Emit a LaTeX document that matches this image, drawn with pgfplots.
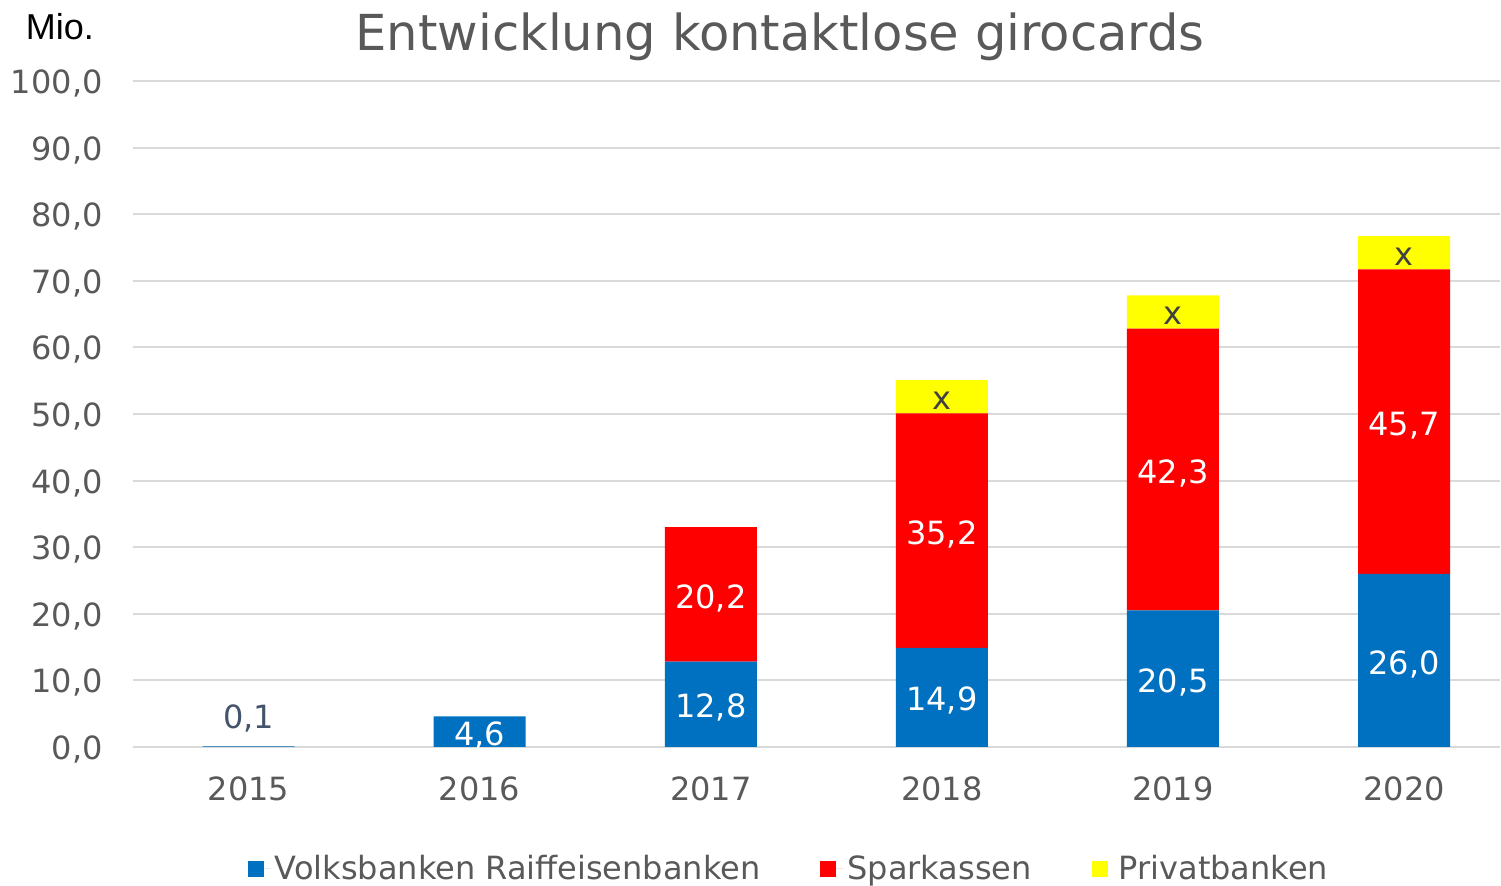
\documentclass[border=0pt]{standalone}
\usepackage{pgfplots}
\pgfplotsset{compat=1.18}
\usepackage{fontspec}
\setmainfont{DejaVu Sans}
\newfontfamily\arialfont{Liberation Sans}
\definecolor{vrblue}{HTML}{0070C0}
\definecolor{spred}{HTML}{FF0000}
\definecolor{pbyellow}{HTML}{FFFF00}
\definecolor{txtgray}{HTML}{595959}
\definecolor{gridgray}{HTML}{D9D9D9}
\definecolor{slate}{HTML}{44546A}
\definecolor{xgray}{HTML}{404040}
\begin{document}
\begin{tikzpicture}
\path[use as bounding box] (-66.5pt,-69.5pt) rectangle (684pt,373.5pt);
\begin{axis}[
  at={(0,0)}, anchor=south west,
  scale only axis, width=683.5pt, height=333pt,
  xmin=-0.5, xmax=5.415, ymin=0, ymax=100,
  ybar stacked, bar width=46pt,
  axis line style={draw=none},
  major tick length=0pt,
  ymajorgrids, grid style={gridgray, line width=1pt},
  ytick={0,10,...,100},
  xtick={0,1,2,3,4,5},
  xticklabels={2015,2016,2017,2018,2019,2020},
  /pgf/number format/assume math mode=true,
  yticklabel style={/pgf/number format/fixed, /pgf/number format/fixed zerofill, /pgf/number format/precision=1, /pgf/number format/use comma},
  ticklabel style={font=\fontsize{16}{19}\selectfont, text=txtgray, inner sep=0pt},
  yticklabel style={anchor=base east, xshift=-15pt, yshift=-6.3pt},
  xticklabel style={anchor=base, yshift=-27pt},
  point meta=explicit symbolic,
  nodes near coords,
  every node near coord/.append style={anchor=center, yshift=-1.8pt, font=\fontsize{16}{19}\selectfont, inner sep=0pt},
  legend columns=3,
  legend image code/.code={\path[#1] (0pt,-4pt) rectangle (8pt,4pt); \path (8pt,0pt) -- (11.5pt,0pt);},
  legend style={at={(0.4806,-0.1832)}, anchor=center, draw=none, fill=none,
    font=\fontsize{16}{19}\selectfont, text=txtgray,
    /tikz/every even column/.append style={column sep=28pt}},
  clip=false,
]
\addplot[fill=vrblue, draw=none, every node near coord/.append style={text=white}] coordinates {
  (0,0.1) []
  (1,4.6) [4,6]
  (2,12.8) [12,8]
  (3,14.9) [14,9]
  (4,20.5) [20,5]
  (5,26.0) [26,0]
};
\addplot[fill=spred, draw=none, every node near coord/.append style={text=white}] coordinates {
  (0,0) []
  (1,0) []
  (2,20.2) [20,2]
  (3,35.2) [35,2]
  (4,42.3) [42,3]
  (5,45.7) [45,7]
};
\addplot[fill=pbyellow, draw=none, every node near coord/.append style={text=xgray}] coordinates {
  (0,0) []
  (1,0) []
  (2,0) []
  (3,5.0) [x]
  (4,5.0) [x]
  (5,5.0) [x]
};
\legend{Volksbanken Raiffeisenbanken, Sparkassen, Privatbanken}
\node[text=slate, font=\fontsize{16}{19}\selectfont] at (axis cs:0,4.3) {0,1};
\end{axis}
\node[anchor=base, text=txtgray, font=\fontsize{24.8}{30}\selectfont] at (323.5pt,348pt) {Entwicklung kontaktlose girocards};
\node[anchor=base, font=\arialfont\fontsize{18}{21}\selectfont] at (-36.5pt,353.5pt) {Mio.};
\end{tikzpicture}
\end{document}
